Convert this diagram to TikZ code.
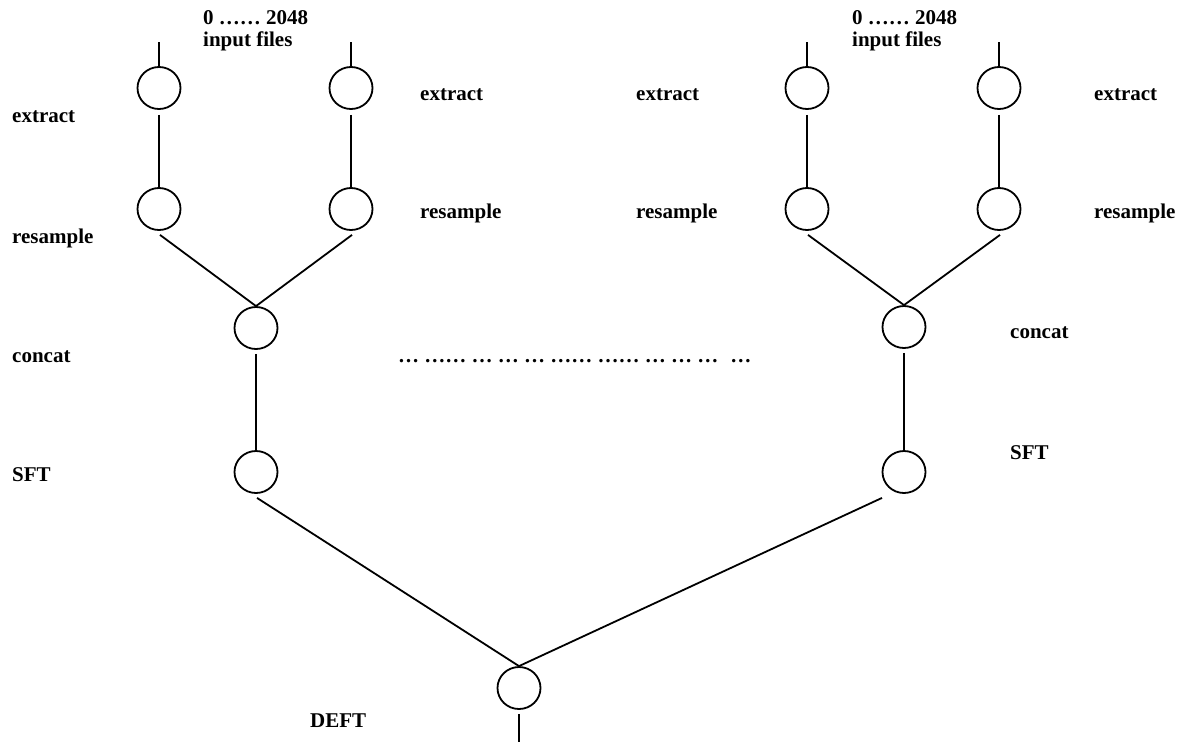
\documentclass[tikz,border=0pt]{standalone}
\usepackage{fontspec}
\setmainfont{Liberation Serif}
\usetikzlibrary{shapes.geometric,calc}
\begin{document}
\begin{tikzpicture}[x=1pt,y=-1pt,
  op/.style={ellipse,draw,line width=1.8pt,minimum width=43pt,minimum height=42pt,inner sep=0pt},
  wire/.style={line width=1.8pt},
  lbl/.style={anchor=base west,inner sep=0pt,font=\fontsize{21}{21}\selectfont\bfseries}]
\useasboundingbox (0,0) rectangle (1185,742);

% operator nodes
\node[op] (e1) at (159,88) {};
\node[op] (e2) at (351,88) {};
\node[op] (e3) at (807,88) {};
\node[op] (e4) at (999,88) {};
\node[op] (r1) at (159,209) {};
\node[op] (r2) at (351,209) {};
\node[op] (r3) at (807,209) {};
\node[op] (r4) at (999,209) {};
\node[op] (c1) at (256,328) {};
\node[op] (c2) at (904,327) {};
\node[op] (s1) at (256,472) {};
\node[op] (s2) at (904,472) {};
\node[op] (d)  at (519,688) {};

% free ends
\coordinate (in1) at (159,42);
\coordinate (in2) at (351,42);
\coordinate (in3) at (807,42);
\coordinate (in4) at (999,42);
\coordinate (out) at (519,742);

% connectors
\draw[wire] (in1) -- (e1.north);
\draw[wire] (in2) -- (e2.north);
\draw[wire] (in3) -- (e3.north);
\draw[wire] (in4) -- (e4.north);
\draw[wire] ($(e1.south)+(0,5)$) -- (r1.north);
\draw[wire] ($(e2.south)+(0,5)$) -- (r2.north);
\draw[wire] ($(e3.south)+(0,5)$) -- (r3.north);
\draw[wire] ($(e4.south)+(0,5)$) -- (r4.north);
\draw[wire] ($(r1.south)+(1,4)$) -- (c1.north);
\draw[wire] ($(r2.south)+(1,4)$) -- (c1.north);
\draw[wire] ($(r3.south)+(1,4)$) -- (c2.north);
\draw[wire] ($(r4.south)+(1,4)$) -- (c2.north);
\draw[wire] ($(c1.south)+(0,4)$) -- (s1.north);
\draw[wire] ($(c2.south)+(0,4)$) -- (s2.north);
\draw[wire] ($(s1.south)+(1,4)$) -- (d.north);
\draw[wire] ($(s2.south)+(-22,4)$) -- (d.north);
\draw[wire] ($(d.south)+(0,4)$) -- (out);

% labels
\node[lbl] (t1a) at (203,24) {0 …… 2048};
\node[lbl] (t1b) at (203,46) {input files};
\node[lbl] (t2a) at (852,24) {0 …… 2048};
\node[lbl] (t2b) at (852,46) {input files};

\node[lbl] (le1) at (12,122) {extract};
\node[lbl] (lr1) at (12,243) {resample};
\node[lbl] (lc1) at (12,362) {concat};
\node[lbl] (ls1) at (12,481) {SFT};

\node[lbl] (le2) at (420,100) {extract};
\node[lbl] (lr2) at (420,218) {resample};
\node[lbl] (le3) at (636,100) {extract};
\node[lbl] (lr3) at (636,218) {resample};
\node[lbl] (le4) at (1094,100) {extract};
\node[lbl] (lr4) at (1094,218) {resample};

\node[lbl] (lc2) at (1010,338) {concat};
\node[lbl] (ls2) at (1010,459) {SFT};
\node[lbl] (ld)  at (310,727) {DEFT};

\node[lbl] (dots) at (398,362) {… …… … … … …… …… … … …\hspace{12pt}…};
\end{tikzpicture}
\end{document}
